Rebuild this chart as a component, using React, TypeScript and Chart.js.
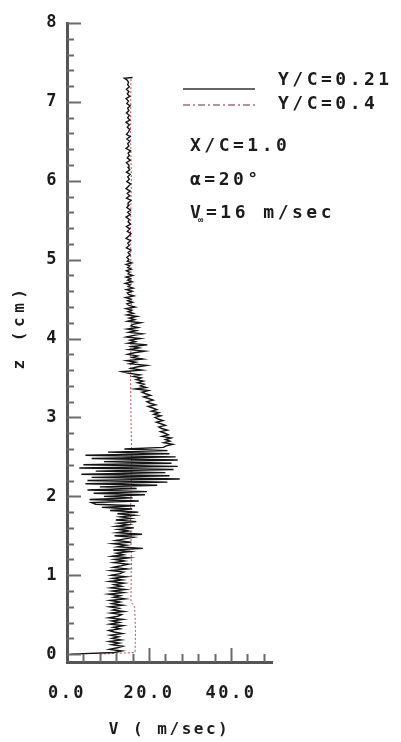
import React, { useEffect, useRef } from "react";
import { Chart, registerables } from "chart.js";
Chart.register(...registerables);

// Y/C = 0.21 : height z (cm) and velocity V (m/sec)
const blackZ = [
  0, 0.02, 0.04, 0.06, 0.08, 0.1, 0.12, 0.14, 0.16, 0.18, 0.2, 0.22, 0.24, 0.26, 0.28, 0.3, 0.32, 0.34, 0.36, 0.38,
  0.4, 0.42, 0.44, 0.46, 0.48, 0.5, 0.52, 0.54, 0.56, 0.58, 0.6, 0.62, 0.64, 0.66, 0.68, 0.7, 0.72, 0.74, 0.76, 0.78,
  0.8, 0.82, 0.84, 0.86, 0.88, 0.9, 0.92, 0.94, 0.96, 0.98, 1.0, 1.02, 1.04, 1.06, 1.08, 1.1, 1.12, 1.14, 1.16, 1.18,
  1.2, 1.22, 1.24, 1.26, 1.28, 1.3, 1.32, 1.34, 1.36, 1.38, 1.4, 1.42, 1.44, 1.46, 1.48, 1.5, 1.52, 1.54, 1.56, 1.58,
  1.6, 1.62, 1.64, 1.66, 1.68, 1.7, 1.72, 1.74, 1.76, 1.78, 1.8, 1.82, 1.84, 1.86, 1.88,
  1.9, 1.92, 1.94, 1.96, 1.98, 2.0, 2.02, 2.04, 2.06, 2.08, 2.1, 2.12, 2.14, 2.16, 2.18, 2.2, 2.22, 2.24, 2.26, 2.28,
  2.3, 2.32, 2.34, 2.36, 2.38, 2.4, 2.42, 2.44, 2.46, 2.48, 2.5, 2.52, 2.54, 2.56, 2.58, 2.6, 2.62,
  2.64, 2.66, 2.68, 2.7, 2.72, 2.74, 2.76, 2.78, 2.8, 2.82, 2.84, 2.86, 2.88, 2.9, 2.92, 2.94, 2.96, 2.98, 3.0, 3.02,
  3.04, 3.06, 3.08, 3.1, 3.12, 3.14, 3.16, 3.18, 3.2, 3.22, 3.24, 3.26, 3.28, 3.3, 3.32, 3.34, 3.36, 3.38, 3.4, 3.42,
  3.44, 3.46, 3.48, 3.5,
  3.52, 3.54, 3.56, 3.58, 3.6, 3.62, 3.64, 3.66, 3.68, 3.7, 3.72, 3.74, 3.76, 3.78, 3.8, 3.82, 3.84, 3.86, 3.88, 3.9,
  3.92, 3.94, 3.96, 3.98, 4.0, 4.02, 4.04, 4.06, 4.08, 4.1, 4.12, 4.14, 4.16, 4.18, 4.2, 4.22, 4.24, 4.26, 4.28, 4.3,
  4.32, 4.34, 4.36, 4.38, 4.4, 4.42, 4.44, 4.46, 4.48, 4.5, 4.52, 4.54, 4.56, 4.58, 4.6, 4.62, 4.64, 4.66, 4.68, 4.7,
  4.72, 4.74, 4.76, 4.78, 4.8, 4.82, 4.84, 4.86, 4.88, 4.9, 4.92, 4.94, 4.96, 4.98, 5.0,
  5.03, 5.06, 5.09, 5.12, 5.15, 5.18, 5.21, 5.24, 5.27, 5.3, 5.33, 5.36, 5.39, 5.42, 5.45, 5.48, 5.51, 5.54, 5.57, 5.6,
  5.63, 5.66, 5.69, 5.72, 5.75, 5.78, 5.81, 5.84, 5.87, 5.9, 5.93, 5.96, 5.99, 6.02, 6.05, 6.08, 6.11, 6.14, 6.17, 6.2,
  6.23, 6.26, 6.29, 6.32, 6.35, 6.38, 6.41, 6.44, 6.47, 6.5, 6.53, 6.56, 6.59, 6.62, 6.65, 6.68, 6.71, 6.74, 6.77, 6.8,
  6.83, 6.86, 6.89, 6.92, 6.95, 6.98, 7.01, 7.04, 7.07, 7.1, 7.13, 7.16, 7.19, 7.22, 7.25, 7.28,
  7.3, 7.31,
];
const blackV = [
  1.0, 11.6, 13.4, 10.4, 12.3, 13.6, 10.9, 12.8, 10.3, 13.2, 11.0, 12.6, 10.6, 13.5, 11.5, 10.2, 12.9, 11.3, 13.7, 10.5,
  12.8, 10.9, 13.6, 10.2, 12.4, 13.3, 10.7, 13.9, 11.2, 12.7, 10.4, 13.6, 11.0, 12.9, 10.5, 14.1, 11.4, 13.0, 10.2, 13.8,
  11.1, 14.2, 10.7, 13.3, 11.5, 13.9, 10.4, 13.5, 11.2, 14.4, 10.8, 12.9, 13.8, 10.7, 14.6, 11.3, 13.2, 14.9, 11.4, 14.0,
  11.6, 15.1, 11.0, 13.8, 12.1, 15.4, 11.3, 18.5, 12.4, 14.5, 11.2, 15.7, 11.9, 14.1, 16.2, 11.6, 18.3, 12.3, 15.0, 12.5,
  16.3, 12.0, 15.1, 12.6, 16.9, 11.9, 15.6, 13.0, 16.5, 12.3, 17.4, 10.5, 15.9, 8.5, 16.6,
  7.0, 6.0, 17.5, 5.5, 16.0, 9.0, 19.0, 6.5, 19.5, 5.0, 17.0, 8.0, 22.0, 4.5, 24.5, 5.0, 27.5, 6.0, 25.0, 3.5,
  24.0, 7.0, 26.0, 3.0, 27.0, 4.0, 25.5, 9.0, 27.0, 6.0, 26.5, 4.5, 25.0, 10.0, 24.5, 14.0, 23.5,
  24.2, 25.8, 23.6, 25.1, 24.0, 25.4, 23.2, 24.7, 23.9, 22.8, 24.5, 23.1, 22.4, 24.0, 22.9, 21.8, 23.4, 22.2, 21.5, 22.9,
  21.2, 22.4, 20.6, 21.9, 20.9, 19.8, 21.6, 20.3, 19.5, 21.0, 19.9, 18.7, 20.4, 19.2, 18.3, 19.8, 16.6, 19.3, 17.9, 18.8,
  17.2, 18.6, 16.9, 18.1,
  16.2, 17.8, 15.1, 13.4, 18.2, 15.6, 17.0, 19.4, 15.3, 16.8, 14.6, 18.5, 15.9, 17.2, 14.8, 16.4, 19.0, 15.2, 17.6, 15.8,
  19.6, 14.9, 16.7, 15.4, 17.9, 14.5, 16.3, 18.4, 15.1, 16.9, 14.7, 17.3, 15.6, 16.1, 18.0, 14.8, 16.5, 15.2, 17.1, 14.6,
  16.2, 14.9, 15.8, 14.4, 16.6, 15.1, 14.6, 16.0, 14.8, 15.6, 14.3, 16.3, 15.0, 14.7, 15.9, 14.5, 16.1, 14.9, 15.4, 14.2,
  15.9, 14.8, 15.5, 14.4, 16.0, 14.9, 15.2, 14.5, 15.7, 14.8, 15.3, 14.4, 15.8, 14.7, 15.1,
  14.6, 15.4, 14.9, 15.6, 14.5, 15.2, 14.8, 15.5, 14.4, 15.1, 15.6, 14.7, 15.3, 14.5, 15.5, 14.9, 15.2, 14.4, 15.4, 14.8,
  15.5, 14.6, 15.1, 14.9, 15.6, 14.5, 15.3, 14.7, 15.4, 14.4, 15.0, 15.5, 14.6, 15.2, 14.8, 15.4, 14.5, 15.3, 14.9, 15.1,
  14.5, 15.4, 14.7, 15.2, 14.9, 15.5, 14.4, 15.1, 14.8, 15.3, 14.6, 15.4, 14.5, 15.0, 15.3, 14.7, 15.2, 14.4, 15.3, 14.8,
  15.2, 14.5, 15.1, 14.8, 15.4, 14.6, 15.0, 14.4, 15.3, 14.7, 15.1, 14.5, 15.2, 14.8, 15.0, 14.6,
  14.0, 16.0,
];

// Y/C = 0.4
const redZ = [0.0, 0.02, 0.3, 0.6, 0.66, 1.2, 1.8, 2.4, 3.0, 3.6, 4.2, 4.8, 5.4, 6.0, 6.6, 7.3];
const redV = [8.0, 16.6, 16.7, 16.5, 15.6, 15.7, 15.5, 15.8, 15.6, 15.5, 15.7, 15.6, 15.5, 15.7, 15.5, 15.6];

const seriesLabels = ["Y/C=0.21", "Y/C=0.4"];
const noteLines = ["X/C=1.0", "\u03b1=20\u00b0"];
const yTickValues = [0, 1, 2, 3, 4, 5, 6, 7, 8];
const xTickValues = [0, 20, 40];
const xTitle = "V ( m/sec)";
const yTitle = "z (cm)";

const FONT = '"DejaVu Sans Mono", "Liberation Mono", monospace';
const TEXT = "#1c1c1c";

const decor = {
  id: "decor",
  beforeDraw(chart: any) {
    (chart.ctx as any).letterSpacing = "2.5px";
  },
  afterDraw(chart: any) {
    const ctx = chart.ctx as any;
    const x = chart.scales.x;
    const y = chart.scales.y;
    ctx.save();
    // inward tick marks
    ctx.strokeStyle = "#6a6a6a";
    ctx.lineWidth = 2;
    for (let i = 0; i <= 40; i++) {
      const py = Math.round(y.getPixelForValue(i * 0.2)) + 0.5;
      const len = i % 5 === 0 ? 14 : 7;
      ctx.beginPath();
      ctx.moveTo(x.left, py);
      ctx.lineTo(x.left + len, py);
      ctx.stroke();
    }
    for (let v = 4; v <= 48; v += 4) {
      const px = Math.round(x.getPixelForValue(v)) + 0.5;
      const len = v % 20 === 0 ? 14 : 8;
      ctx.beginPath();
      ctx.moveTo(px, y.bottom);
      ctx.lineTo(px, y.bottom - len);
      ctx.stroke();
    }
    // legend
    ctx.lineWidth = 1.3;
    ctx.strokeStyle = "#333";
    ctx.setLineDash([]);
    ctx.beginPath();
    ctx.moveTo(183, 89);
    ctx.lineTo(255, 89);
    ctx.stroke();
    ctx.strokeStyle = "#a07070";
    ctx.setLineDash([7, 3, 2, 3]);
    ctx.beginPath();
    ctx.moveTo(183, 105);
    ctx.lineTo(255, 105);
    ctx.stroke();
    ctx.setLineDash([]);

    ctx.fillStyle = TEXT;
    ctx.textBaseline = "middle";
    ctx.textAlign = "left";
    ctx.letterSpacing = "3.5px";
    ctx.font = `bold 18px ${FONT}`;
    ctx.fillText(seriesLabels[0], 278, 80);
    ctx.fillText(seriesLabels[1], 278, 104);
    ctx.fillText(noteLines[0], 190, 146);
    ctx.fillText(noteLines[1], 190, 180);
    // V∞=16 m/sec
    ctx.fillText("V", 190, 213);
    ctx.letterSpacing = "0px";
    ctx.font = `bold 9px ${FONT}`;
    ctx.fillText("\u221e", 198, 221);
    ctx.letterSpacing = "3.5px";
    ctx.font = `bold 18px ${FONT}`;
    ctx.fillText("=16 m/sec", 206, 213);

    // y title
    ctx.font = `bold 16px ${FONT}`;
    ctx.letterSpacing = "4.5px";
    ctx.translate(20, 327);
    ctx.rotate(-Math.PI / 2);
    ctx.textAlign = "center";
    ctx.fillText(yTitle, 0, 0);
    ctx.restore();
    ctx.letterSpacing = "0px";
  },
};

export default function App() {
  const ref = useRef<HTMLCanvasElement | null>(null);
  useEffect(() => {
    document.body.style.margin = "0";
    const canvas = ref.current;
    if (!canvas) return;
    const chart = new Chart(canvas, {
      type: "scatter",
      data: {
        datasets: [
          {
            label: seriesLabels[0],
            data: blackZ.map((z, i) => ({ x: blackV[i], y: z })),
            showLine: true,
            borderColor: "#151515",
            borderWidth: 1.4,
            pointRadius: 0,
          },
          {
            label: seriesLabels[1],
            data: redZ.map((z, i) => ({ x: redV[i], y: z })),
            showLine: true,
            borderColor: "#c04848",
            borderWidth: 1,
            borderDash: [2, 2],
            pointRadius: 0,
          },
        ],
      },
      options: {
        animation: false,
        responsive: false,
        devicePixelRatio: 1,
        layout: { padding: { left: 0, top: 23, right: 129, bottom: 0 } },
        plugins: { legend: { display: false }, tooltip: { enabled: false } },
        scales: {
          x: {
            type: "linear",
            min: 0,
            max: 50,
            afterFit: (s: any) => {
              s.height = 80;
            },
            afterBuildTicks: (s: any) => {
              s.ticks = xTickValues.map((v) => ({ value: v }));
            },
            grid: { display: false, drawTicks: false },
            border: { display: true, color: "#555", width: 3 },
            ticks: {
              autoSkip: false,
              maxRotation: 0,
              padding: 21,
              color: TEXT,
              font: { family: FONT, size: 17, weight: "bold" },
              callback: (v: any) => Number(v).toFixed(1),
            },
            title: {
              display: true,
              text: xTitle,
              color: TEXT,
              font: { family: FONT, size: 16, weight: "bold" },
              padding: { top: 0, bottom: 3 },
            },
          },
          y: {
            type: "linear",
            min: -0.1,
            max: 8,
            afterFit: (s: any) => {
              s.width = 67;
            },
            afterBuildTicks: (s: any) => {
              s.ticks = yTickValues.map((v) => ({ value: v }));
            },
            grid: { display: false, drawTicks: false },
            border: { display: true, color: "#555", width: 3 },
            ticks: {
              padding: 8,
              color: TEXT,
              font: { family: FONT, size: 17, weight: "bold" },
              callback: (v: any) => String(v),
            },
          },
        },
      },
      plugins: [decor],
    });
    return () => chart.destroy();
  }, []);
  return (
    <div style={{ width: 401, height: 742, background: "#fff" }}>
      <canvas ref={ref} width={401} height={742} style={{ display: "block" }} />
    </div>
  );
}
